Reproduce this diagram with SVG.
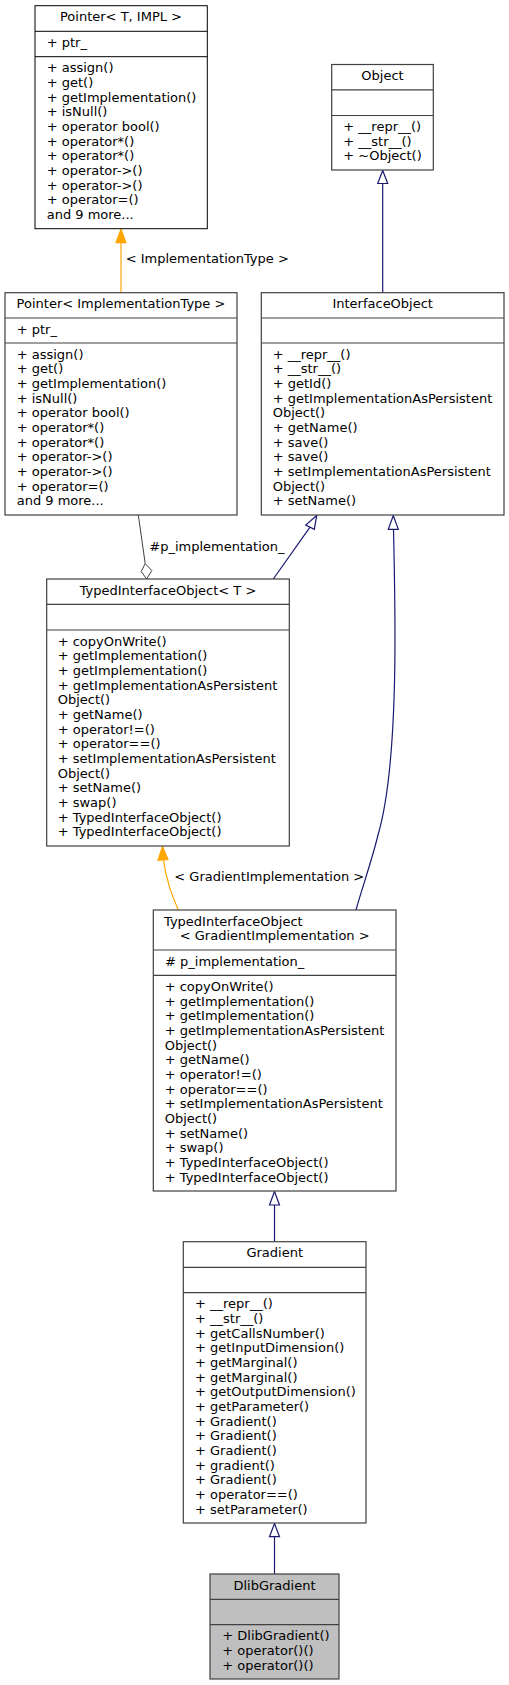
<svg xmlns="http://www.w3.org/2000/svg" width="509" height="1685" viewBox="0 0 509 1685">
<style>
text{font-family:"DejaVu Sans","Liberation Sans",sans-serif;font-size:13px;fill:#000}
.c{text-anchor:middle}
.box{fill:#fff;stroke:#404040;stroke-width:1.2}
.box.k{stroke:#000;stroke-width:1}
.box.f{fill:#bfbfbf}
.dv{stroke:#404040;stroke-width:1.2}
.dv.k{stroke:#000;stroke-width:1}
.inh{fill:none;stroke:#191970;stroke-width:1.2}
.inhh{fill:#fff;stroke:#191970;stroke-width:1.2}
.tpl{fill:none;stroke:#ffa500;stroke-width:1.2}
.tplh{fill:#ffa500;stroke:#ffa500;stroke-width:1.2}
.use{fill:none;stroke:#404040;stroke-width:1}
.useh{fill:#fff;stroke:#404040;stroke-width:1}
</style>
<rect width="509" height="1685" fill="#fff"/>
<g id="connectors">
  <!-- Pointer<ImplementationType> -> Pointer<T,IMPL> -->
  <path class="tpl" d="M121,292.7 L121,242.7"/>
  <polygon class="tplh" points="121,229.2 116,242.7 126,242.7"/>
  <text x="125.7" y="263.3">&lt; ImplementationType &gt;</text>
  <!-- InterfaceObject -> Object -->
  <path class="inh" d="M382.7,292.7 L382.7,183.5"/>
  <polygon class="inhh" points="382.7,170.5 377.7,183.5 387.7,183.5"/>
  <!-- Pointer<ImplementationType> -> TIO<T> (usage) -->
  <path class="use" d="M138.3,515 L145.2,563.5"/>
  <polygon class="useh" points="145.2,563.5 151.8,570.5 146.7,579 141.2,571.5"/>
  <text x="149.3" y="550.7">#p_implementation_</text>
  <!-- TIO<T> -> InterfaceObject -->
  <path class="inh" d="M273.3,579 L310,527.2"/>
  <polygon class="inhh" points="316.7,515.5 305.7,525 314.3,529.3"/>
  <!-- TIO<GradImpl> -> InterfaceObject -->
  <path class="inh" d="M393.5,529.5 C395,600 400,760 378,835 C372,860 362,888 356,910"/>
  <polygon class="inhh" points="393.3,515.5 388.3,529.3 398.3,529.3"/>
  <!-- TIO<GradImpl> -> TIO<T> -->
  <path class="tpl" d="M163.5,860 C166,880 172,895 178.3,910"/>
  <polygon class="tplh" points="162.5,846.5 158,860.3 168,859.5"/>
  <text x="174.3" y="880.5">&lt; GradientImplementation &gt;</text>
  <!-- Gradient -> TIO<GradImpl> -->
  <path class="inh" d="M274.5,1205 L274.5,1241.7"/>
  <polygon class="inhh" points="274.5,1191.5 269.5,1205 279.5,1205"/>
  <!-- DlibGradient -> Gradient -->
  <path class="inh" d="M274.5,1536.7 L274.5,1574"/>
  <polygon class="inhh" points="274.5,1523.5 269.5,1536.7 279.5,1536.7"/>
</g>
<g id="PointerTIMPL">
  <rect class="box k" x="35" y="5.7" width="172.3" height="223"/>
  <line class="dv k" x1="35" y1="31.3" x2="207.3" y2="31.3"/>
  <line class="dv k" x1="35" y1="56.7" x2="207.3" y2="56.7"/>
  <text class="c" x="121" y="21.2">Pointer&lt; T, IMPL &gt;</text>
  <text x="46.7" y="46.9">+ ptr_</text>
  <text x="46.7" y="72.2">+ assign()</text>
  <text x="46.7" y="86.9">+ get()</text>
  <text x="46.7" y="101.5">+ getImplementation()</text>
  <text x="46.7" y="116.2">+ isNull()</text>
  <text x="46.7" y="130.9">+ operator bool()</text>
  <text x="46.7" y="145.6">+ operator*()</text>
  <text x="46.7" y="160.2">+ operator*()</text>
  <text x="46.7" y="174.9">+ operator-&gt;()</text>
  <text x="46.7" y="189.6">+ operator-&gt;()</text>
  <text x="46.7" y="204.2">+ operator=()</text>
  <text x="46.7" y="218.9">and 9 more...</text>
</g>
<g id="Object">
  <rect class="box" x="331.7" y="64.5" width="101.6" height="105.5"/>
  <line class="dv" x1="331.7" y1="89.9" x2="433.3" y2="89.9"/>
  <line class="dv" x1="331.7" y1="115.5" x2="433.3" y2="115.5"/>
  <text class="c" x="382.5" y="80.3">Object</text>
  <text x="343.3" y="131">+ __repr__()</text>
  <text x="343.3" y="145.7">+ __str__()</text>
  <text x="343.3" y="160.3">+ ~Object()</text>
</g>
<g id="PointerImplementationType">
  <rect class="box" x="5" y="292.7" width="232" height="222.3"/>
  <line class="dv" x1="5" y1="318" x2="237" y2="318"/>
  <line class="dv" x1="5" y1="343" x2="237" y2="343"/>
  <text class="c" x="121" y="308.2">Pointer&lt; ImplementationType &gt;</text>
  <text x="16.7" y="333.5">+ ptr_</text>
  <text x="16.7" y="358.5">+ assign()</text>
  <text x="16.7" y="373.2">+ get()</text>
  <text x="16.7" y="387.8">+ getImplementation()</text>
  <text x="16.7" y="402.5">+ isNull()</text>
  <text x="16.7" y="417.2">+ operator bool()</text>
  <text x="16.7" y="431.9">+ operator*()</text>
  <text x="16.7" y="446.5">+ operator*()</text>
  <text x="16.7" y="461.2">+ operator-&gt;()</text>
  <text x="16.7" y="475.9">+ operator-&gt;()</text>
  <text x="16.7" y="490.5">+ operator=()</text>
  <text x="16.7" y="505.2">and 9 more...</text>
</g>
<g id="InterfaceObject">
  <rect class="box" x="261.3" y="292.7" width="242.7" height="222.3"/>
  <line class="dv" x1="261.3" y1="318" x2="504" y2="318"/>
  <line class="dv" x1="261.3" y1="343" x2="504" y2="343"/>
  <text class="c" x="382.7" y="308.2">InterfaceObject</text>
  <text x="272.7" y="358.5">+ __repr__()</text>
  <text x="272.7" y="373.2">+ __str__()</text>
  <text x="272.7" y="387.8">+ getId()</text>
  <text x="272.7" y="402.5">+ getImplementationAsPersistent</text>
  <text x="272.7" y="417.2">Object()</text>
  <text x="272.7" y="431.9">+ getName()</text>
  <text x="272.7" y="446.5">+ save()</text>
  <text x="272.7" y="461.2">+ save()</text>
  <text x="272.7" y="475.9">+ setImplementationAsPersistent</text>
  <text x="272.7" y="490.5">Object()</text>
  <text x="272.7" y="505.2">+ setName()</text>
</g>
<g id="TypedInterfaceObjectT">
  <rect class="box" x="46.7" y="579" width="242.6" height="267"/>
  <line class="dv" x1="46.7" y1="604.3" x2="289.3" y2="604.3"/>
  <line class="dv" x1="46.7" y1="630" x2="289.3" y2="630"/>
  <text class="c" x="168" y="594.5">TypedInterfaceObject&lt; T &gt;</text>
  <text x="57.7" y="645.5">+ copyOnWrite()</text>
  <text x="57.7" y="660.2">+ getImplementation()</text>
  <text x="57.7" y="674.8">+ getImplementation()</text>
  <text x="57.7" y="689.5">+ getImplementationAsPersistent</text>
  <text x="57.7" y="704.2">Object()</text>
  <text x="57.7" y="718.9">+ getName()</text>
  <text x="57.7" y="733.5">+ operator!=()</text>
  <text x="57.7" y="748.2">+ operator==()</text>
  <text x="57.7" y="762.9">+ setImplementationAsPersistent</text>
  <text x="57.7" y="777.5">Object()</text>
  <text x="57.7" y="792.2">+ setName()</text>
  <text x="57.7" y="806.9">+ swap()</text>
  <text x="57.7" y="821.6">+ TypedInterfaceObject()</text>
  <text x="57.7" y="836.2">+ TypedInterfaceObject()</text>
</g>
<g id="TypedInterfaceObjectGradientImplementation">
  <rect class="box" x="153.3" y="910" width="242.7" height="281"/>
  <line class="dv" x1="153.3" y1="950" x2="396" y2="950"/>
  <line class="dv" x1="153.3" y1="975.3" x2="396" y2="975.3"/>
  <text x="164" y="925.5">TypedInterfaceObject</text>
  <text class="c" x="274.7" y="940.2">&lt; GradientImplementation &gt;</text>
  <text x="165" y="965.5"># p_implementation_</text>
  <text x="164.7" y="990.8">+ copyOnWrite()</text>
  <text x="164.7" y="1005.5">+ getImplementation()</text>
  <text x="164.7" y="1020.1">+ getImplementation()</text>
  <text x="164.7" y="1034.8">+ getImplementationAsPersistent</text>
  <text x="164.7" y="1049.5">Object()</text>
  <text x="164.7" y="1064.2">+ getName()</text>
  <text x="164.7" y="1078.8">+ operator!=()</text>
  <text x="164.7" y="1093.5">+ operator==()</text>
  <text x="164.7" y="1108.2">+ setImplementationAsPersistent</text>
  <text x="164.7" y="1122.8">Object()</text>
  <text x="164.7" y="1137.5">+ setName()</text>
  <text x="164.7" y="1152.2">+ swap()</text>
  <text x="164.7" y="1166.9">+ TypedInterfaceObject()</text>
  <text x="164.7" y="1181.5">+ TypedInterfaceObject()</text>
</g>
<g id="Gradient">
  <rect class="box" x="183.3" y="1241.7" width="182.7" height="281.3"/>
  <line class="dv" x1="183.3" y1="1267.3" x2="366" y2="1267.3"/>
  <line class="dv" x1="183.3" y1="1292.7" x2="366" y2="1292.7"/>
  <text class="c" x="274.7" y="1257.2">Gradient</text>
  <text x="195" y="1308.2">+ __repr__()</text>
  <text x="195" y="1322.9">+ __str__()</text>
  <text x="195" y="1337.5">+ getCallsNumber()</text>
  <text x="195" y="1352.2">+ getInputDimension()</text>
  <text x="195" y="1366.9">+ getMarginal()</text>
  <text x="195" y="1381.6">+ getMarginal()</text>
  <text x="195" y="1396.2">+ getOutputDimension()</text>
  <text x="195" y="1410.9">+ getParameter()</text>
  <text x="195" y="1425.6">+ Gradient()</text>
  <text x="195" y="1440.2">+ Gradient()</text>
  <text x="195" y="1454.9">+ Gradient()</text>
  <text x="195" y="1469.6">+ gradient()</text>
  <text x="195" y="1484.2">+ Gradient()</text>
  <text x="195" y="1498.9">+ operator==()</text>
  <text x="195" y="1513.6">+ setParameter()</text>
</g>
<g id="DlibGradient">
  <rect class="box f" x="210" y="1574" width="129" height="105"/>
  <line class="dv" x1="210" y1="1599.3" x2="339" y2="1599.3"/>
  <line class="dv" x1="210" y1="1624.7" x2="339" y2="1624.7"/>
  <text class="c" x="274.5" y="1589.5">DlibGradient</text>
  <text x="222.3" y="1640.2">+ DlibGradient()</text>
  <text x="222.3" y="1654.9">+ operator()()</text>
  <text x="222.3" y="1669.5">+ operator()()</text>
</g>
</svg>
